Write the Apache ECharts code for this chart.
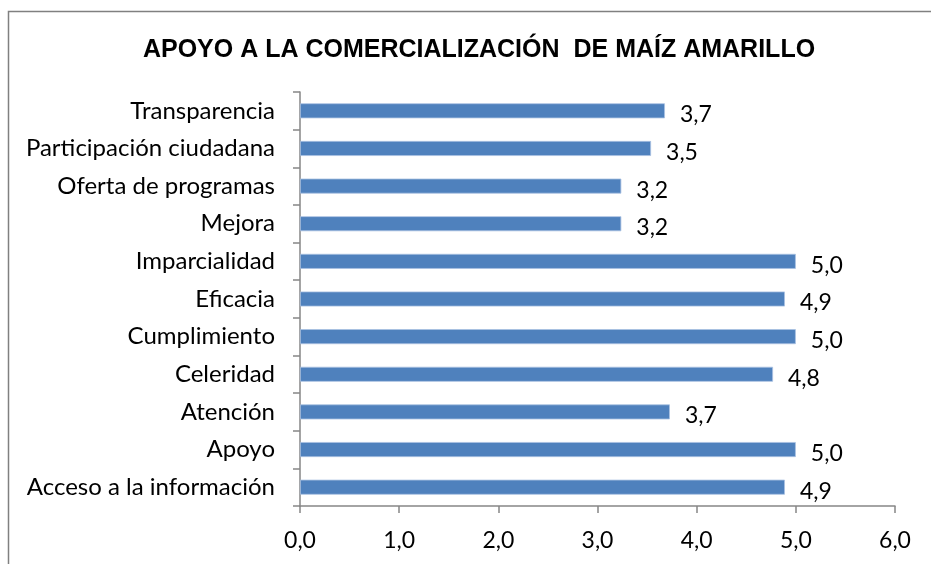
<!DOCTYPE html>
<html>
<head>
<meta charset="utf-8">
<script src="https://cdn.jsdelivr.net/npm/echarts@6/dist/echarts.min.js"></script>
<style>
    html, body { margin: 0; padding: 0; background: #fff; }
    #chart { width: 931px; height: 564px; }
</style>
</head>
<body>
<div id="chart"></div>
<script>
var chartTitle = 'APOYO A LA COMERCIALIZACIÓN  DE MAÍZ AMARILLO';
var categories = ['Transparencia', 'Participación ciudadana', 'Oferta de programas', 'Mejora',
    'Imparcialidad', 'Eficacia', 'Cumplimiento', 'Celeridad', 'Atención', 'Apoyo', 'Acceso a la información'];
var values = [3.68, 3.54, 3.24, 3.24, 5.0, 4.89, 5.0, 4.77, 3.73, 5.0, 4.89];
var axisMax = 6;

function comma(v) {
    return v.toFixed(1).replace('.', ',');
}

var chartDom = document.getElementById('chart');
var myChart = echarts.init(chartDom);
var option;

option = {
    animation: false,
    title: {
        text: chartTitle,
        left: 474,
        top: 33,
        textAlign: 'center',
        textStyle: {
            fontFamily: 'Liberation Sans',
            fontWeight: 'bold',
            fontSize: 25,
            color: '#000'
        }
    },
    graphic: [{
        type: 'rect',
        shape: { x: 8.5, y: 11.5, width: 940, height: 600 },
        style: { fill: 'none', stroke: '#808080', lineWidth: 1.5 }
    }],
    grid: {
        left: 300,
        right: 36,
        top: 92,
        bottom: 58
    },
    xAxis: {
        type: 'value',
        min: 0,
        max: axisMax,
        interval: 1,
        splitLine: { show: false },
        axisLine: { show: true, lineStyle: { color: '#868686', width: 1.5 } },
        axisTick: { show: true, length: 7, lineStyle: { color: '#868686', width: 1.5 } },
        axisLabel: {
            margin: 23,
            fontFamily: 'Lato',
            fontSize: 23,
            color: '#000',
            formatter: function (v) { return comma(v); }
        }
    },
    yAxis: {
        type: 'category',
        inverse: true,
        data: categories,
        axisLine: { show: true, lineStyle: { color: '#868686', width: 1.5 } },
        axisTick: { show: true, length: 7, alignWithLabel: false, lineStyle: { color: '#868686', width: 1.5 } },
        axisLabel: {
            margin: 25,
            fontFamily: 'Lato',
            fontSize: 24,
            color: '#000'
        }
    },
    series: [{
        type: 'bar',
        data: values,
        barWidth: 15,
        itemStyle: {
            color: '#4F81BD',
            borderColor: '#a9c2e2',
            borderWidth: 0.8
        },
        label: {
            show: true,
            position: 'right',
            distance: 15,
            offset: [0, 4],
            fontFamily: 'Lato',
            fontSize: 23,
            color: '#000',
            formatter: function (p) { return comma(p.value); }
        }
    }]
};

myChart.setOption(option);
</script>
</body>
</html>
